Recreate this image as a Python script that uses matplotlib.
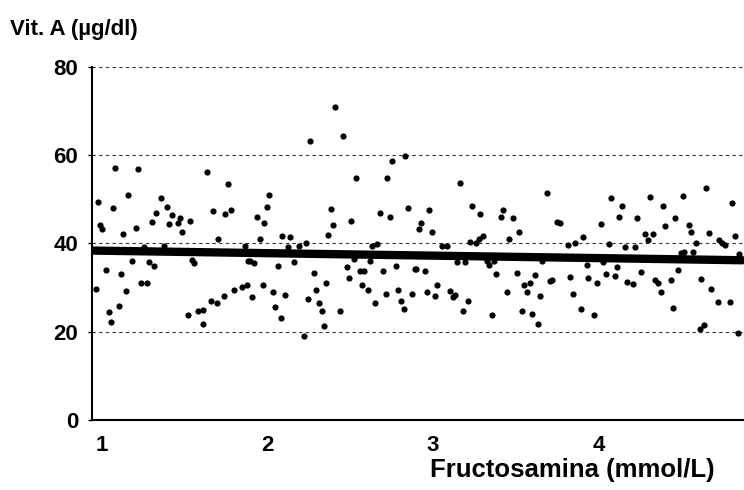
import matplotlib.pyplot as plt

# Fructosamina (mmol/L) vs Vit. A (ug/dl)
fructosamina = [
    1.078, 1.216, 1.637, 1.764, 0.974, 1.068, 1.159, 1.359, 1.391, 1.329,
    1.423, 1.671, 1.744, 1.778, 0.986, 1.002, 1.129, 1.208, 1.300, 1.405,
    1.458, 1.472, 1.530, 1.486, 1.704, 1.377, 1.256, 1.179, 1.286, 1.316,
    1.546, 1.558, 1.022, 1.115, 0.966, 1.147, 1.236, 1.270, 1.042, 1.103,
    1.056, 1.522, 1.579, 1.613, 1.613, 1.659, 1.694, 1.740, 1.800, 1.849,
    1.877, 1.905, 1.885,
    2.409, 2.458, 2.256, 2.752, 2.833, 2.538, 2.724, 2.010, 1.998, 1.938,
    1.982, 2.383, 2.399, 2.508, 2.678, 2.742, 2.851, 1.954, 2.091, 2.137,
    2.369, 2.123, 2.188, 2.232, 2.631, 2.664, 1.865, 1.895, 1.921, 2.061,
    2.159, 2.280, 1.972, 2.034, 2.109, 2.046, 2.079, 2.248, 2.295, 2.355,
    2.313, 2.327, 2.343, 2.220, 2.436, 2.480, 2.494, 2.526, 2.557, 2.585,
    2.573, 2.605, 2.619, 2.653, 2.696, 2.714, 2.776, 2.791, 2.805, 2.825,
    2.871, 2.889,
    3.162, 2.974, 3.238, 3.287, 3.424, 3.412, 3.486, 3.692, 3.751, 3.767,
    2.930, 2.914, 2.992, 3.521, 3.224, 3.261, 3.277, 3.301, 3.458, 3.815,
    3.861, 3.057, 3.085, 3.146, 3.194, 3.327, 3.337, 3.367, 3.660, 2.900,
    2.950, 3.381, 3.506, 3.617, 3.551, 3.585, 3.706, 3.720, 3.831, 3.025,
    2.964, 3.010, 3.105, 3.135, 3.119, 3.212, 3.184, 3.355, 3.446, 3.569,
    3.648, 3.539, 3.599, 3.636, 3.845,
    4.648, 4.079, 4.313, 4.509, 4.144, 4.390, 4.805, 4.126, 4.235, 4.466,
    4.404, 4.017, 4.545, 4.559, 4.666, 4.281, 4.329, 4.300, 3.910, 4.729,
    4.749, 4.763, 4.823, 4.063, 4.158, 4.220, 4.591, 4.573, 4.499, 4.517,
    4.852, 3.932, 4.029, 4.110, 4.049, 4.099, 4.255, 4.483, 3.940, 3.991,
    4.174, 4.208, 4.345, 4.362, 4.436, 4.622, 4.682, 4.376, 4.721, 4.793,
    3.896, 3.976, 4.452, 4.614, 4.640, 4.844,
]
vit_a = [
    57.2, 56.9, 56.1, 53.4, 49.3, 48.1, 51.1, 50.4, 48.3, 46.9,
    46.5, 47.4, 46.6, 47.5, 44.1, 43.2, 42.1, 43.6, 44.8, 44.5,
    44.7, 45.7, 45.0, 42.6, 41.0, 39.5, 39.1, 36.0, 35.7, 34.9,
    36.2, 35.5, 34.0, 33.1, 29.7, 29.3, 31.0, 31.0, 24.4, 25.8,
    22.2, 23.9, 24.7, 24.9, 21.8, 26.9, 26.4, 28.1, 29.5, 30.2,
    30.7, 27.8, 36.1,
    71.0, 64.3, 63.2, 58.7, 59.8, 54.9, 54.9, 50.9, 48.3, 46.0,
    44.7, 47.8, 44.3, 45.2, 46.8, 45.9, 48.0, 41.1, 41.7, 41.5,
    41.9, 39.2, 39.5, 40.2, 39.4, 39.9, 39.4, 36.0, 35.6, 35.0,
    35.9, 33.2, 30.5, 28.9, 28.3, 25.6, 23.0, 27.5, 29.4, 31.0,
    26.4, 24.8, 21.4, 19.1, 24.6, 34.6, 32.2, 36.5, 33.7, 33.7,
    30.6, 29.5, 36.0, 26.4, 33.8, 28.6, 35.0, 29.5, 27.0, 25.2,
    28.6, 34.2,
    53.6, 47.5, 48.5, 46.7, 47.5, 46.0, 45.7, 51.4, 44.9, 44.7,
    44.7, 43.2, 42.7, 42.7, 40.4, 40.2, 41.0, 41.6, 41.0, 39.7,
    40.2, 39.5, 39.4, 35.9, 35.8, 36.1, 35.2, 36.1, 36.0, 34.3,
    33.8, 33.0, 33.2, 32.9, 30.7, 31.0, 31.6, 31.7, 32.5, 30.7,
    29.1, 28.0, 29.2, 28.4, 27.9, 26.9, 24.6, 23.8, 28.9, 28.9,
    28.0, 24.8, 24.0, 21.8, 28.6,
    52.6, 50.2, 50.5, 50.7, 48.4, 48.4, 49.1, 45.9, 45.7, 45.7,
    43.9, 44.4, 44.3, 42.7, 42.3, 42.2, 42.2, 40.7, 41.4, 40.8,
    40.1, 39.7, 41.7, 39.8, 39.2, 39.2, 40.1, 38.1, 37.9, 38.0,
    37.7, 35.2, 35.9, 34.6, 33.0, 32.6, 33.5, 34.0, 32.1, 31.1,
    31.3, 30.8, 31.7, 31.1, 31.8, 32.0, 29.7, 29.1, 26.7, 26.8,
    25.1, 23.8, 25.3, 20.6, 21.5, 19.6,
]

# regression line as drawn in the chart
fit_x = [0.93, 4.87]
fit_y = [38.4, 36.2]

plt.rcParams['font.family'] = ['Liberation Sans', 'DejaVu Sans']

fig = plt.figure(figsize=(7.44, 4.90), dpi=100)
ax = fig.add_axes([0.1237, 0.1429, 0.8763, 0.7204])

ax.scatter(fructosamina, vit_a, s=20, color='black', zorder=3, linewidths=0)
ax.plot(fit_x, fit_y, color='black', linewidth=6, solid_capstyle='round', zorder=4)

ax.set_xlim(0.94, 4.88)
ax.set_ylim(0, 80)
ax.set_yticks([0, 20, 40, 60, 80])
ax.set_xticks([1, 2, 3, 4])

for y in [20, 40, 60, 80]:
    ax.axhline(y, color='#333333', linewidth=0.8, linestyle=(0, (3, 3)), zorder=1)

for side in ['top', 'right']:
    ax.spines[side].set_visible(False)
ax.spines['left'].set_linewidth(1.5)
ax.spines['bottom'].set_linewidth(1.5)

ax.tick_params(axis='y', length=3, width=1, pad=7, labelsize=16)
ax.tick_params(axis='x', length=0, pad=11, labelsize=16)
for lbl in ax.get_xticklabels() + ax.get_yticklabels():
    lbl.set_fontweight('bold')

fig.text(10 / 744, 1 - 30 / 490, 'Vit. A (µg/dl)', fontsize=16, fontweight='bold',
         ha='left', va='center')
fig.text(572 / 744, 1 - 470 / 490, 'Fructosamina (mmol/L)', fontsize=18.5,
         fontweight='bold', ha='center', va='center')

fig.savefig('out.png', dpi=100)
